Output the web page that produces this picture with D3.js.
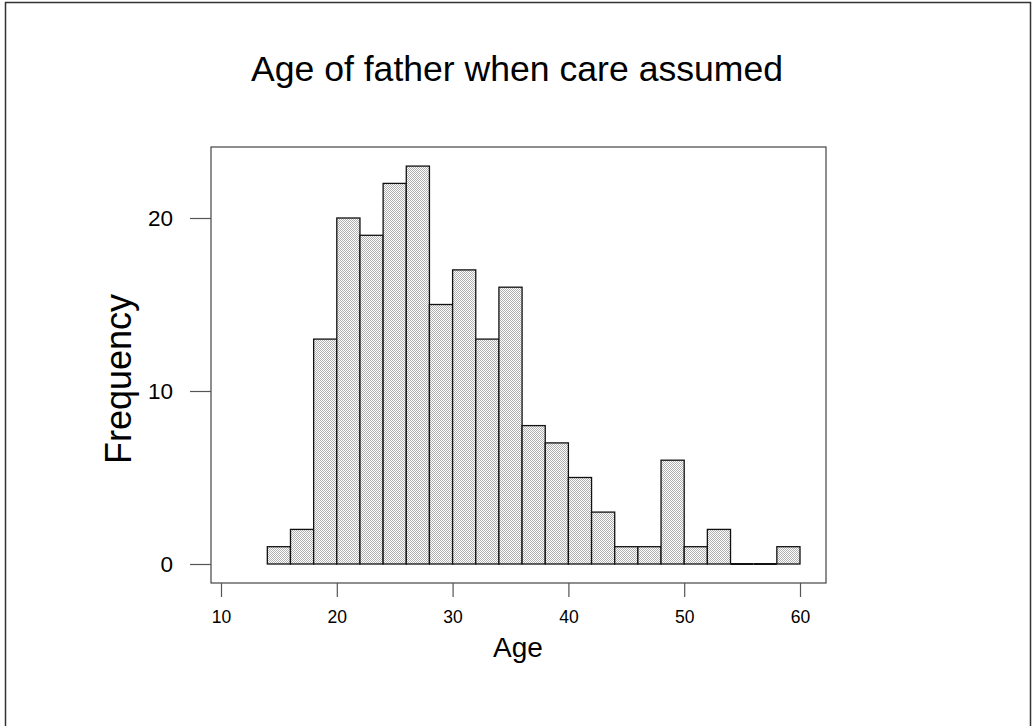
<!DOCTYPE html>
<html><head><meta charset="utf-8">
<script src="https://cdn.jsdelivr.net/npm/d3@7"></script>
<style>body{margin:0;background:#fff}svg{display:block}text{font-family:"Liberation Sans",Arial,sans-serif;fill:#000}</style>
</head><body>
<svg id="c" width="1032" height="726"></svg>
<script>
const binStarts = [14,16,18,20,22,24,26,28,30,32,34,36,38,40,42,44,46,48,50,52,54,56,58];
const counts    = [1,2,13,20,19,22,23,15,17,13,16,8,7,5,3,1,1,6,1,2,0,0,1];
const binWidth = 2;
const xTicks = [10,20,30,40,50,60];
const yTicks = [0,10,20];
const title = "Age of father when care assumed";
const xLabel = "Age", yLabel = "Frequency";

const svg = d3.select("#c");
const defs = svg.append("defs");
const pat = defs.append("pattern").attr("id","chk").attr("patternUnits","userSpaceOnUse")
  .attr("width",2).attr("height",2);
pat.append("rect").attr("width",2).attr("height",2).attr("fill","#fff");
pat.append("rect").attr("x",0).attr("y",0).attr("width",1).attr("height",1).attr("fill","#b0b0b0");
pat.append("rect").attr("x",1).attr("y",1).attr("width",1).attr("height",1).attr("fill","#b0b0b0");

// outer frame
svg.append("rect").attr("x",5.5).attr("y",2.5).attr("width",1025).attr("height",730)
  .attr("fill","none").attr("stroke","#333").attr("stroke-width",1.5);

const x = d3.scaleLinear().domain([10,60]).range([221,800]);
const y = d3.scaleLinear().domain([0,20]).range([564,218]);
const box = {l:211, t:147, r:826, b:583};

// plot box
svg.append("rect").attr("x",box.l).attr("y",box.t).attr("width",box.r-box.l).attr("height",box.b-box.t)
  .attr("fill","none").attr("stroke","#444").attr("stroke-width",1.2);

// bars
const data = binStarts.map((s,i)=>({s, c:counts[i]}));
svg.append("g").selectAll("rect").data(data.filter(d=>d.c>0)).join("rect")
  .attr("x",d=>x(d.s)).attr("y",d=>y(d.c))
  .attr("width",d=>x(d.s+binWidth)-x(d.s)).attr("height",d=>y(0)-y(d.c))
  .attr("fill","url(#chk)").attr("stroke","#111").attr("stroke-width",1.3);
svg.append("g").selectAll("line").data(data.filter(d=>d.c===0)).join("line")
  .attr("x1",d=>x(d.s)).attr("x2",d=>x(d.s+binWidth)).attr("y1",y(0)).attr("y2",y(0))
  .attr("stroke","#111").attr("stroke-width",2);

// x axis
const xa = svg.append("g").attr("transform",`translate(0,${box.b})`)
  .call(d3.axisBottom(x).tickValues(xTicks).tickSize(14).tickSizeOuter(0).tickPadding(14).tickFormat(d3.format("d")));
xa.select(".domain").remove();
xa.selectAll(".tick line").attr("stroke","#555").attr("stroke-width",1.2);
xa.selectAll(".tick text").style("font-size","17.5px").attr("fill","#000");

// y axis
const ya = svg.append("g").attr("transform",`translate(${box.l},0)`)
  .call(d3.axisLeft(y).tickValues(yTicks).tickSize(21).tickSizeOuter(0).tickPadding(17).tickFormat(d3.format("d")));
ya.select(".domain").remove();
ya.selectAll(".tick line").attr("stroke","#555").attr("stroke-width",1.2);
ya.selectAll(".tick text").style("font-size","22.5px").attr("fill","#000");

// titles
svg.append("text").attr("x",517).attr("y",81).attr("text-anchor","middle").style("font-size","35.6px").text(title);
svg.append("text").attr("x",518).attr("y",657).attr("text-anchor","middle").style("font-size","28px").text(xLabel);
svg.append("text").attr("transform","translate(131,379) rotate(-90)").attr("text-anchor","middle").style("font-size","36px").text(yLabel);
</script>
</body></html>
